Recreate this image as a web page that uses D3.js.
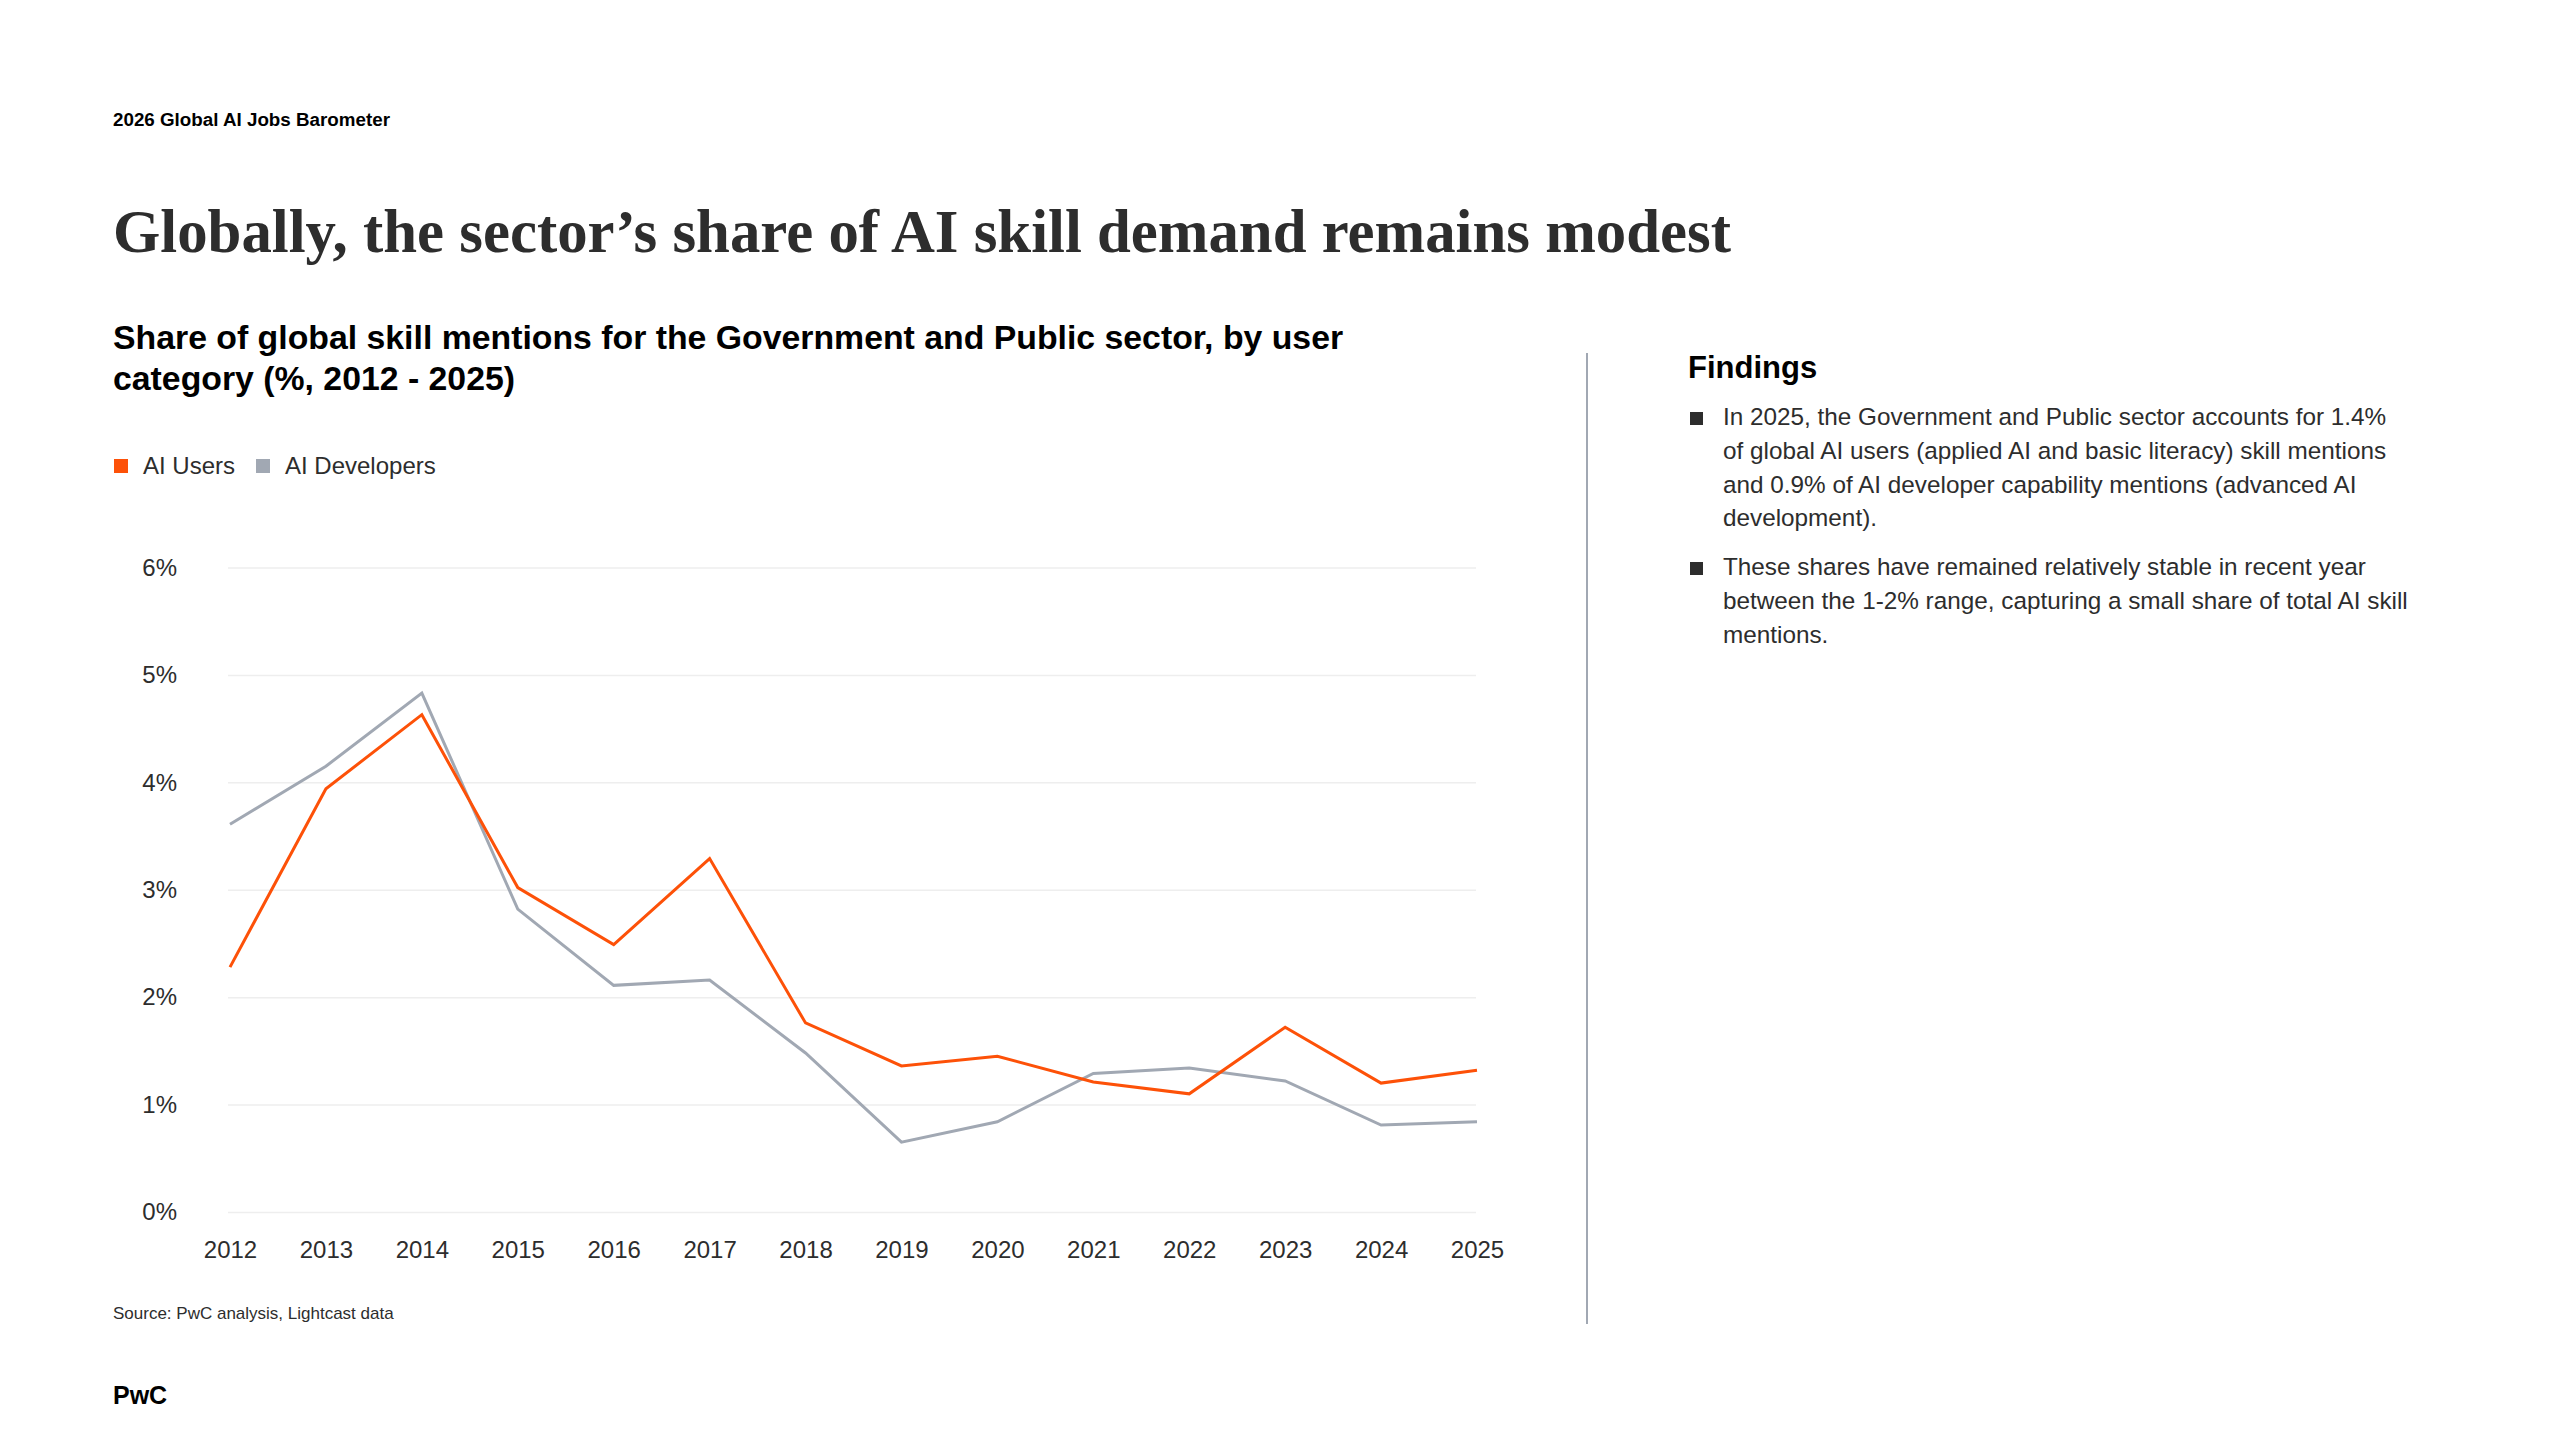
<!DOCTYPE html>
<html>
<head>
<meta charset="utf-8">
<script src="https://cdn.jsdelivr.net/npm/d3@7"></script>
<style>
  html, body { margin: 0; padding: 0; background: #fff; }
  svg text { font-family: "Liberation Sans", Arial, sans-serif; fill: #2d2d2d; }
</style>
</head>
<body>
<svg id="chart" width="2560" height="1440"></svg>
<script>
// data
const years = ["2012", "2013", "2014", "2015", "2016", "2017", "2018", "2019", "2020", "2021", "2022", "2023", "2024", "2025"];
const aiUsers = [2.28, 3.94, 4.63, 3.02, 2.49, 3.29, 1.76, 1.36, 1.45, 1.21, 1.10, 1.72, 1.20, 1.32];
const aiDevelopers = [3.61, 4.15, 4.83, 2.82, 2.11, 2.16, 1.48, 0.65, 0.84, 1.29, 1.34, 1.22, 0.81, 0.84];
const yTicks = [0, 1, 2, 3, 4, 5, 6];
const seriesNames = ["AI Users", "AI Developers"];
const seriesColors = ["#fd5108", "#a1a8b3"];

const findings = [
    ["In 2025, the Government and Public sector accounts for 1.4%",
     "of global AI users (applied AI and basic literacy) skill mentions",
     "and 0.9% of AI developer capability mentions (advanced AI",
     "development)."],
    ["These shares have remained relatively stable in recent year",
     "between the 1-2% range, capturing a small share of total AI skill",
     "mentions."]
];

const svg = d3.select("#chart");

// header
svg.append("text")
    .attr("x", 113).attr("y", 126)
    .style("font-size", "18.8px").style("font-weight", "bold")
    .style("fill", "#000")
    .text("2026 Global AI Jobs Barometer");

svg.append("text")
    .attr("x", 113).attr("y", 252)
    .style("font-family", "'Liberation Serif', serif")
    .style("font-size", "60.8px").style("font-weight", "bold")
    .style("fill", "#2d2d2d")
    .text("Globally, the sector\u2019s share of AI skill demand remains modest");

const sub = svg.append("text")
    .attr("x", 113).attr("y", 349)
    .style("font-size", "33.8px").style("font-weight", "bold")
    .style("fill", "#000");
sub.append("tspan").attr("x", 113).text("Share of global skill mentions for the Government and Public sector, by user");
sub.append("tspan").attr("x", 113).attr("dy", 41).text("category (%, 2012 - 2025)");

// legend
const legendX = [114, 256];
seriesNames.forEach((name, i) => {
    svg.append("rect")
        .attr("x", legendX[i]).attr("y", 459)
        .attr("width", 14).attr("height", 14)
        .attr("fill", seriesColors[i]);
    svg.append("text")
        .attr("x", legendX[i] + 29).attr("y", 474)
        .style("font-size", "24px")
        .text(name);
});

// chart
const margin = { left: 230, right: 1477, top: 567.5, bottom: 1212 };

const xScale = d3.scalePoint()
    .domain(years)
    .range([margin.left, margin.right]);

const yScale = d3.scaleLinear()
    .domain([0, 6])
    .range([margin.bottom, margin.top]);

const yAxis = svg.append("g")
    .attr("transform", `translate(${margin.left - 2},0)`)
    .call(d3.axisLeft(yScale)
        .tickValues(yTicks)
        .tickFormat(d => d + "%")
        .tickSize(-(margin.right - margin.left + 1))
        .tickPadding(51));
yAxis.select(".domain").remove();
yAxis.selectAll(".tick line").attr("stroke", "#eeeeee").attr("stroke-width", 1.5);
yAxis.selectAll(".tick text")
    .style("font-size", "24px")
    .style("font-family", "'Liberation Sans', Arial, sans-serif")
    .attr("fill", "#2d2d2d");

const xAxis = svg.append("g")
    .attr("transform", `translate(0,${margin.bottom})`)
    .call(d3.axisBottom(xScale).tickSize(0).tickPadding(29));
xAxis.select(".domain").remove();
xAxis.selectAll(".tick text")
    .style("font-size", "24px")
    .style("font-family", "'Liberation Sans', Arial, sans-serif")
    .attr("fill", "#2d2d2d");

const line = d3.line()
    .x((_, i) => xScale(years[i]))
    .y(d => yScale(d));

[aiDevelopers, aiUsers].forEach((values, k) => {
    svg.append("path")
        .datum(values)
        .attr("fill", "none")
        .attr("stroke", k === 0 ? seriesColors[1] : seriesColors[0])
        .attr("stroke-width", 3)
        .attr("stroke-linejoin", "miter")
        .attr("d", line);
});

// source + footer
svg.append("text")
    .attr("x", 113).attr("y", 1319)
    .style("font-size", "17px")
    .text("Source: PwC analysis, Lightcast data");

svg.append("text")
    .attr("x", 113).attr("y", 1404)
    .style("font-size", "25px").style("font-weight", "bold")
    .style("fill", "#000")
    .text("PwC");

// divider
svg.append("line")
    .attr("x1", 1587).attr("x2", 1587)
    .attr("y1", 353).attr("y2", 1324)
    .attr("stroke", "#a1a8b3").attr("stroke-width", 2);

// findings panel
svg.append("text")
    .attr("x", 1688).attr("y", 378)
    .style("font-size", "31px").style("font-weight", "bold")
    .style("fill", "#000")
    .text("Findings");

const bulletY = [425, 575];
findings.forEach((lines, i) => {
    svg.append("rect")
        .attr("x", 1690).attr("y", bulletY[i] - 13)
        .attr("width", 13).attr("height", 13)
        .attr("fill", "#2d2d2d");
    const t = svg.append("text")
        .attr("x", 1723).attr("y", bulletY[i])
        .style("font-size", "24.3px");
    lines.forEach((l, j) => {
        t.append("tspan").attr("x", 1723).attr("dy", j === 0 ? 0 : 33.8).text(l);
    });
});
</script>
</body>
</html>
